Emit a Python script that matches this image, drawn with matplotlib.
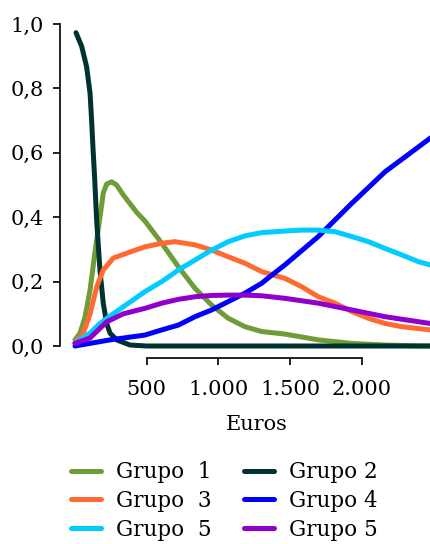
import matplotlib
matplotlib.use("Agg")
import matplotlib.pyplot as plt

# ------------------------------------------------------------
# Data (x in euros, y as share)
# ------------------------------------------------------------
g1_x = [0, 35, 70, 105, 139, 174, 197, 221, 256, 290, 337, 430, 488, 605, 721, 837,
        953, 1069, 1185, 1302, 1464, 1697, 1930, 2162, 2400, 2600]
g1_y = [0.019, 0.04, 0.09, 0.174, 0.29, 0.40, 0.475, 0.503, 0.51, 0.50, 0.469, 0.415, 0.388,
        0.319, 0.246, 0.179, 0.127, 0.086, 0.06, 0.045, 0.037, 0.019, 0.008, 0.003, 0.0, 0.0]

g2_x = [7, 47, 81, 105, 116, 126, 136, 151, 174, 197, 221, 244, 290, 384, 500, 2600]
g2_y = [0.973, 0.93, 0.867, 0.785, 0.70, 0.61, 0.53, 0.39, 0.236, 0.133, 0.07, 0.04,
        0.019, 0.003, 0.0, 0.0]

g3_x = [0, 58, 105, 151, 197, 267, 384, 488, 605, 697, 837, 953, 1069, 1185, 1302,
        1464, 1581, 1697, 1813, 1930, 2046, 2162, 2278, 2476, 2600]
g3_y = [0.01, 0.04, 0.10, 0.183, 0.236, 0.273, 0.292, 0.308, 0.319, 0.324, 0.314, 0.298,
        0.277, 0.257, 0.231, 0.21, 0.184, 0.153, 0.133, 0.107, 0.086, 0.07, 0.06, 0.05, 0.045]

g4_x = [0, 244, 488, 605, 721, 837, 953, 1069, 1185, 1302, 1418, 1464, 1697, 1930,
        2162, 2476, 2600]
g4_y = [0.0, 0.019, 0.034, 0.05, 0.065, 0.091, 0.112, 0.138, 0.164, 0.195, 0.236, 0.252,
        0.34, 0.443, 0.541, 0.645, 0.685]

g5a_x = [0, 105, 174, 267, 488, 605, 721, 837, 953, 1069, 1185, 1302, 1464, 1581, 1697,
         1813, 1930, 2046, 2162, 2278, 2394, 2476, 2600]
g5a_y = [0.01, 0.04, 0.07, 0.10, 0.169, 0.20, 0.236, 0.267, 0.298, 0.324, 0.342, 0.352,
         0.357, 0.36, 0.36, 0.355, 0.34, 0.324, 0.303, 0.283, 0.262, 0.252, 0.235]

g5b_x = [0, 105, 163, 221, 337, 488, 605, 721, 837, 953, 1069, 1185, 1302, 1464, 1697,
         1930, 2162, 2476, 2600]
g5b_y = [0.008, 0.025, 0.05, 0.075, 0.10, 0.117, 0.133, 0.145, 0.153, 0.157, 0.158, 0.158,
         0.156, 0.148, 0.133, 0.112, 0.091, 0.07, 0.063]

labels = ["Grupo  1", "Grupo 2", "Grupo  3", "Grupo 4", "Grupo  5", "Grupo 5"]
colors = ["#6f9c37", "#00332f", "#ff6a33", "#0000ff", "#00ccff", "#9000cc"]

x_ticks = [500, 1000, 1500, 2000]
x_tick_labels = ["500", "1.000", "1.500", "2.000"]
y_ticks = [0.0, 0.2, 0.4, 0.6, 0.8, 1.0]
y_tick_labels = ["0,0", "0,2", "0,4", "0,6", "0,8", "1,0"]

plt.rcParams["font.family"] = "DejaVu Serif"
plt.rcParams["font.size"] = 15

fig = plt.figure(figsize=(4.31, 5.44), dpi=100)
ax = fig.add_axes([60 / 431, (544 - 358) / 544, 371 / 431, (358 - 24) / 544])

series = [(g1_x, g1_y), (g2_x, g2_y), (g3_x, g3_y),
          (g4_x, g4_y), (g5a_x, g5a_y), (g5b_x, g5b_y)]
lines = []
for (xs, ys), lab, col in zip(series, labels, colors):
    ln, = ax.plot(xs, ys, color=col, linewidth=3.6, label=lab,
                  solid_joinstyle="round", solid_capstyle="round")
    lines.append(ln)

# x = 0 sits 15 px right of the y spine, 1000 euros is ~143.4 px
ax.set_xlim(-15 / 0.1434, 371 / 0.1434 - 15 / 0.1434)
ax.set_ylim(-12 / 322, 1.0)

ax.spines["top"].set_visible(False)
ax.spines["right"].set_visible(False)
ax.spines["left"].set_bounds(0, 1)
ax.spines["bottom"].set_bounds(500, 2000)
for s in ("left", "bottom"):
    ax.spines[s].set_linewidth(1.3)
    ax.spines[s].set_color("#111111")

ax.set_xticks(x_ticks)
ax.set_xticklabels(x_tick_labels)
ax.set_yticks(y_ticks)
ax.set_yticklabels(y_tick_labels)
ax.tick_params(direction="out", length=5, width=1.3, color="#111111", pad=6.5)
ax.tick_params(axis="x", pad=10.5)

ax.set_xlabel("Euros")
ax.xaxis.set_label_coords((257 - 60) / 371, -0.17)

# legend fills column-wise: left column 1, 3, 5 / right column 2, 4, 5
order = [0, 2, 4, 1, 3, 5]
fig.legend(handles=[lines[i] for i in order], loc="center",
           bbox_to_anchor=(224.5 / 431, 1 - 501 / 544), fontsize=15.5,
           ncol=2, frameon=False, handlelength=1.4, handletextpad=0.7,
           labelspacing=0.32, columnspacing=1.5, borderpad=0)

fig.savefig("out.png", dpi=100)
